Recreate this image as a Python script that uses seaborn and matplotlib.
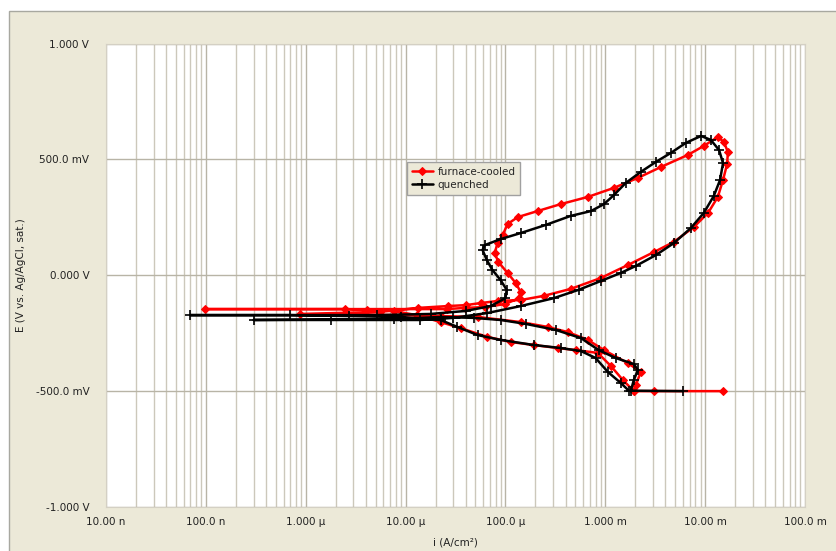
import numpy as np
import pandas as pd
import matplotlib
matplotlib.use('Agg')
import matplotlib.pyplot as plt
import matplotlib.ticker as mticker
from matplotlib.patches import Rectangle
import seaborn as sns

# furnace-cooled: current density (A/cm2) and potential (V), in scan order
fc_i = [1.51e-2, 3.07e-3, 1.93e-3, 1.5e-3, 1.14e-3, 8.4e-4, 5.06e-4, 3.34e-4, 1.92e-4, 1.13e-4,
        6.6e-5, 3.55e-5, 2.24e-5, 1.29e-5, 7.6e-6, 4.1e-6, 2.5e-6, 9.8e-8, 2.57e-5, 3.9e-5,
        6.3e-5, 1.0e-4, 1.36e-4, 1.42e-4, 1.27e-4, 1.05e-4, 8.5e-5, 7.8e-5, 8.35e-5, 9.4e-5,
        1.05e-4, 1.33e-4, 2.1e-4, 3.58e-4, 6.7e-4, 1.22e-3, 2.12e-3, 3.6e-3, 6.7e-3, 9.7e-3,
        1.34e-2, 1.54e-2, 1.69e-2, 1.66e-2, 1.51e-2, 1.34e-2, 1.07e-2, 7.7e-3, 4.87e-3, 3.07e-3,
        1.68e-3, 9.0e-4, 4.5e-4, 2.42e-4, 1.42e-4, 8.35e-5, 5.64e-5, 4.0e-5, 2.63e-5, 1.32e-5,
        5.6e-6, 8.8e-7, 8.9e-6, 2.24e-5, 5.26e-5, 1.42e-4, 2.65e-4, 4.2e-4, 6.7e-4, 9.7e-4,
        1.68e-3, 2.27e-3, 2.02e-3, 1.93e-3]
fc_E = [-0.500, -0.500, -0.500, -0.452, -0.392, -0.335, -0.323, -0.314, -0.301, -0.288,
        -0.266, -0.228, -0.202, -0.172, -0.154, -0.150, -0.146, -0.146, -0.146, -0.141,
        -0.137, -0.124, -0.099, -0.072, -0.034, 0.010, 0.057, 0.096, 0.139, 0.174,
        0.221, 0.251, 0.277, 0.307, 0.338, 0.377, 0.420, 0.467, 0.519, 0.558,
        0.597, 0.575, 0.532, 0.480, 0.411, 0.338, 0.269, 0.208, 0.144, 0.100,
        0.044, -0.012, -0.059, -0.089, -0.107, -0.111, -0.120, -0.129, -0.133, -0.141,
        -0.158, -0.167, -0.172, -0.176, -0.180, -0.202, -0.223, -0.245, -0.279, -0.323,
        -0.379, -0.417, -0.474, -0.500]

# quenched
q_i = [6.0e-3, 1.72e-3, 1.43e-3, 1.06e-3, 8.0e-4, 5.7e-4, 3.58e-4, 1.92e-4, 8.95e-5, 5.26e-5,
       3.3e-5, 2.24e-5, 8.9e-6, 2.7e-6, 7.0e-7, 7.0e-8, 5.2e-6, 1.78e-5, 4.0e-5, 7.1e-5,
       1.0e-4, 1.03e-4, 8.95e-5, 7.4e-5, 6.5e-5, 5.9e-5, 6.2e-5, 8.95e-5, 1.42e-4, 2.53e-4,
       4.5e-4, 7.2e-4, 9.7e-4, 1.22e-3, 1.6e-3, 2.27e-3, 3.21e-3, 4.54e-3, 6.4e-3, 9.1e-3,
       1.14e-2, 1.38e-2, 1.51e-2, 1.41e-2, 1.22e-2, 9.7e-3, 7.2e-3, 4.87e-3, 3.21e-3, 2.02e-3,
       1.43e-3, 9.0e-4, 5.4e-4, 3.04e-4, 1.42e-4, 6.6e-5, 3.0e-5, 1.41e-5, 1.8e-6, 3.0e-7,
       7.6e-6, 2.24e-5, 4.8e-5, 8.95e-5, 1.6e-4, 3.19e-4, 5.7e-4, 8.6e-4, 1.27e-3, 1.93e-3,
       2.12e-3, 1.93e-3, 1.8e-3]
q_E = [-0.500, -0.498, -0.465, -0.417, -0.357, -0.327, -0.314, -0.301, -0.279, -0.258,
       -0.223, -0.193, -0.180, -0.176, -0.172, -0.172, -0.172, -0.167, -0.154, -0.133,
       -0.099, -0.063, -0.021, 0.023, 0.066, 0.109, 0.130, 0.156, 0.182, 0.217,
       0.256, 0.277, 0.307, 0.346, 0.398, 0.446, 0.489, 0.528, 0.571, 0.601,
       0.584, 0.540, 0.484, 0.411, 0.342, 0.269, 0.204, 0.139, 0.087, 0.040,
       0.010, -0.025, -0.063, -0.099, -0.133, -0.163, -0.184, -0.193, -0.193, -0.193,
       -0.189, -0.180, -0.184, -0.193, -0.210, -0.236, -0.271, -0.323, -0.357, -0.383,
       -0.409, -0.452, -0.500]

x_ticks = [1e-8, 1e-7, 1e-6, 1e-5, 1e-4, 1e-3, 1e-2, 1e-1]
x_labels = ['10.00 n', '100.0 n', '1.000 µ', '10.00 µ', '100.0 µ', '1.000 m', '10.00 m', '100.0 m']
y_ticks = [-1.0, -0.5, 0.0, 0.5, 1.0]
y_labels = ['-1.000 V', '-500.0 mV', '0.000 V', '500.0 mV', '1.000 V']

sns.set_style('white')
plt.rcParams['font.family'] = ['DejaVu Sans']

fig = plt.figure(figsize=(8.36, 5.51), dpi=100)
fig.patch.set_facecolor('white')
# beige panel behind the chart
panel = Rectangle((9 / 836, -0.01), 1.0, (551 - 11) / 551 + 0.01,
                  transform=fig.transFigure, facecolor='#ece9d8',
                  edgecolor='#a8a8a0', linewidth=1.0, zorder=-10)
fig.patches.append(panel)
ax = fig.add_axes([106 / 836, 44 / 551, 699 / 836, 463.5 / 551])
ax.set_zorder(1)
ax.set_facecolor('white')

fc = pd.DataFrame({'i': fc_i, 'E': fc_E})
q = pd.DataFrame({'i': q_i, 'E': q_E})
sns.lineplot(data=fc, x='i', y='E', ax=ax, sort=False, estimator=None, color='#ff0000',
             linewidth=1.8, linestyle='-', marker='D', markersize=4.5,
             markeredgecolor='#ff0000', markerfacecolor='#ff0000',
             label='furnace-cooled', zorder=3)
sns.lineplot(data=q, x='i', y='E', ax=ax, sort=False, estimator=None, color='black',
             linewidth=1.8, linestyle='-', marker='+', markersize=7, markeredgewidth=1.2,
             markeredgecolor='black', label='quenched', zorder=4)

ax.set_xscale('log')
ax.set_xlim(1e-8, 1e-1)
ax.set_ylim(-1, 1)
ax.set_xticks(x_ticks)
ax.set_xticklabels(x_labels)
ax.xaxis.set_minor_locator(mticker.LogLocator(base=10, subs=np.arange(2, 10)))
ax.xaxis.set_minor_formatter(mticker.NullFormatter())
ax.set_yticks(y_ticks)
ax.set_yticklabels(y_labels)
ax.yaxis.set_minor_locator(mticker.MultipleLocator(0.1))

ax.grid(True, which='major', axis='both', color='#b8b4a6', linewidth=1.0)
ax.grid(True, which='minor', axis='x', color='#ccc8bb', linewidth=1.0)
ax.set_axisbelow(True)

ax.tick_params(axis='x', which='both', length=0, pad=7, labelsize=7.5, labelcolor='#222222')
ax.tick_params(axis='y', which='both', length=6, width=0.8, color='#a0a0a0', direction='out',
               pad=6, labelsize=7.5, labelcolor='#222222')
for s in ax.spines.values():
    s.set_color('#d4d0c4')
    s.set_linewidth(0.8)

ax.set_xlabel('i (A/cm²)', fontsize=7.5, color='#222222', labelpad=8)
ax.set_ylabel('E (V vs. Ag/AgCl, sat.)', fontsize=7.5, color='#222222', labelpad=7)

leg = ax.legend(loc='upper left', bbox_to_anchor=((407 - 106) / 699, (507 - 162) / 463.5),
                borderaxespad=0, fontsize=7.5, frameon=True, fancybox=False, framealpha=1,
                handlelength=2.0, handletextpad=0.5, borderpad=0.45, labelspacing=0.3)
leg.get_frame().set_facecolor('#ece9d8')
leg.get_frame().set_edgecolor('#a0a0a0')

fig.savefig('out.png', dpi=100, facecolor=fig.get_facecolor())
